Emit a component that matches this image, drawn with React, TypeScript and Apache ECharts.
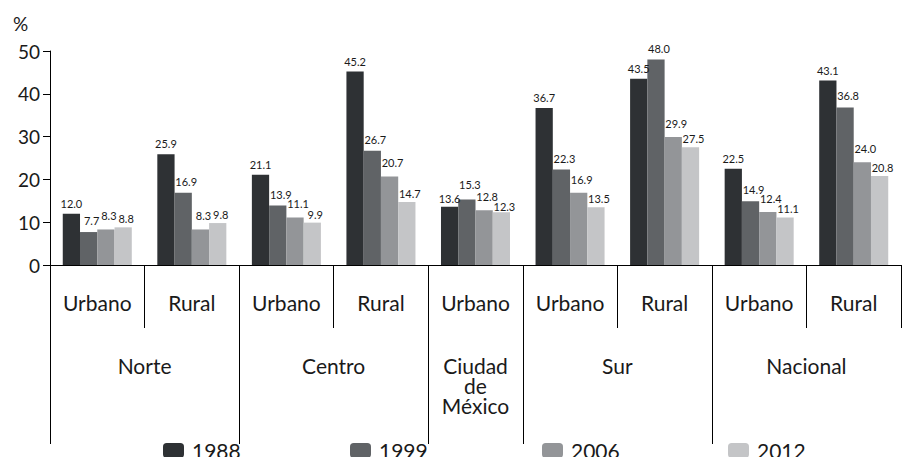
import React, { useEffect, useRef } from "react";
import * as echarts from "echarts";

const categories = ["Urbano", "Rural", "Urbano", "Rural", "Urbano", "Urbano", "Rural", "Urbano", "Rural"];
// group axis: 19 half-step points across the 9 categories
const groupPoints = ["", "", "Norte", "", "", "", "Centro", "", "", "Ciudad\nde\nMéxico", "", "", "Sur", "", "", "", "Nacional", "", ""];
const groupBoundaryIdx = [0, 4, 8, 10, 14];

const years = ["1988", "1999", "2006", "2012"];
const v1988 = [12.0, 25.9, 21.1, 45.2, 13.6, 36.7, 43.5, 22.5, 43.1];
const v1999 = [7.7, 16.9, 13.9, 26.7, 15.3, 22.3, 48.0, 14.9, 36.8];
const v2006 = [8.3, 8.3, 11.1, 20.7, 12.8, 16.9, 29.9, 12.4, 24.0];
const v2012 = [8.8, 9.8, 9.9, 14.7, 12.3, 13.5, 27.5, 11.1, 20.8];
const colors = ["#2e3134", "#606366", "#939598", "#c4c5c7"];

// label styling (not data): default distance per series, and a staggered set for the crowded CDMX column
const labelDistance = [5, 6, 8, 3];
const labelShiftX = [0, 3, 3, 3];
const cdmxIndex = 4;
const cdmxDistance = [3, 10, 8, 0];

const FONT = "Lato, 'DejaVu Sans', sans-serif";
const TXT = "#1a1a1a";

export default function App() {
  const ref = useRef<HTMLDivElement>(null);
  useEffect(() => {
    if (!ref.current) return;
    document.body.style.margin = "0";
    const chart = echarts.init(ref.current, null, { renderer: "svg" });
    const values = [v1988, v1999, v2006, v2012];
    const legendLefts = [163, 350, 542, 728];
    chart.setOption({
      animation: false,
      textStyle: { fontFamily: FONT, color: TXT },
      grid: { left: 50, width: 865, top: 51, height: 214, containLabel: false },
      legend: years.map((y, i) => ({
        data: [y],
        left: legendLefts[i],
        top: 440,
        padding: 0,
        itemWidth: 21,
        itemHeight: 15,
        itemStyle: { borderWidth: 0 },
        textStyle: { fontSize: 21, color: TXT, fontFamily: FONT, padding: [0, 0, 0, 3] },
        selectedMode: false,
      })),
      graphic: [
        { type: "text", left: 13, top: 14, style: { text: "%", fontSize: 19, fill: TXT, fontFamily: FONT } },
      ],
      xAxis: [
        {
          type: "category",
          data: categories,
          position: "bottom",
          axisLine: { show: true, lineStyle: { color: "#000", width: 1 } },
          axisTick: { show: true, length: 63, lineStyle: { color: "#000", width: 1 } },
          axisLabel: { fontSize: 21, color: TXT, fontFamily: FONT, margin: 27, interval: 0 },
        },
        {
          type: "category",
          data: groupPoints,
          position: "bottom",
          boundaryGap: false,
          axisLine: { show: false },
          axisTick: {
            show: true,
            length: 179,
            interval: (idx: number) => groupBoundaryIdx.includes(idx),
            lineStyle: { color: "#000", width: 1 },
          },
          axisLabel: {
            fontSize: 21,
            color: TXT,
            fontFamily: FONT,
            margin: 90,
            interval: 0,
            lineHeight: 20,
            align: "center",
          },
        },
      ],
      yAxis: {
        type: "value",
        min: 0,
        max: 50,
        interval: 10,
        splitLine: { show: false },
        axisLine: { show: true, lineStyle: { color: "#000", width: 1 } },
        axisTick: { show: true, length: 7, lineStyle: { color: "#000" } },
        axisLabel: { fontSize: 19, color: TXT, fontFamily: FONT, margin: 10 },
      },
      series: years.map((y, i) => ({
        name: y,
        type: "bar",
        xAxisIndex: 0,
        data: values[i].map((v, j) =>
          j === cdmxIndex ? { value: v, label: { distance: cdmxDistance[i] } } : v
        ),
        barGap: "0%",
        barCategoryGap: "27%",
        itemStyle: { color: colors[i] },
        label: {
          show: true,
          position: "top",
          distance: labelDistance[i],
          offset: [labelShiftX[i], 0],
          fontSize: 11,
          color: TXT,
          fontFamily: FONT,
          formatter: (p: any) => Number(p.value).toFixed(1),
        },
      })),
    });
    return () => chart.dispose();
  }, []);
  return <div ref={ref} style={{ width: 904, height: 457 }} />;
}
